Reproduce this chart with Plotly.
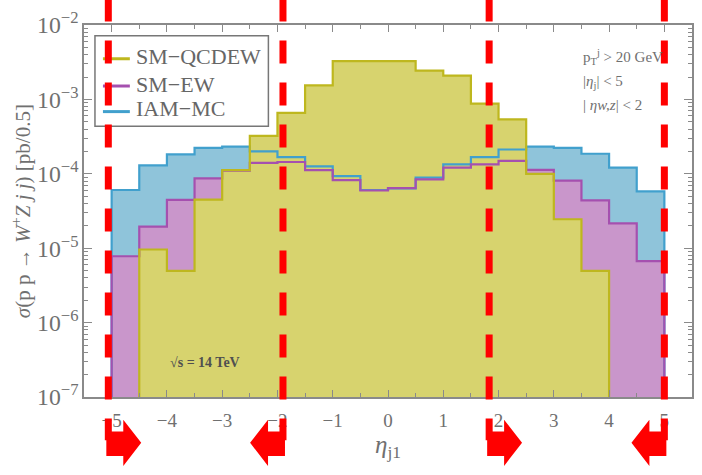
import numpy as np
import plotly.graph_objects as go

# eta_j1 histogram, bins of width 0.5 from -5 to 5  (cross section per bin in pb)
bin_edges = [-5.0, -4.5, -4.0, -3.5, -3.0, -2.5, -2.0, -1.5, -1.0, -0.5, 0.0,
             0.5, 1.0, 1.5, 2.0, 2.5, 3.0, 3.5, 4.0, 4.5, 5.0]

sm_qcdew = [0, 9.6e-6, 4.95e-6, 4.5e-5, 1.12e-4, 3.24e-4, 6.6e-4, 1.54e-3, 3.27e-3, 3.27e-3,
            3.27e-3, 2.43e-3, 2.09e-3, 8.8e-4, 5.4e-4, 1.0e-4, 2.45e-5, 4.95e-6, 0, 0]
sm_ew = [7.8e-6, 1.95e-5, 4.47e-5, 8.7e-5, 1.1e-4, 1.40e-4, 1.44e-4, 1.12e-4, 8.2e-5, 5.96e-5,
         6.4e-5, 8.4e-5, 1.21e-4, 1.34e-4, 1.49e-4, 1.13e-4, 8.1e-5, 4.38e-5, 2.15e-5, 6.7e-6]
iam_mc = [6.06e-5, 1.30e-4, 1.82e-4, 2.23e-4, 2.32e-4, 2.0e-4, 1.68e-4, 1.26e-4, 9.3e-5, 6.06e-5,
          6.38e-5, 8.9e-5, 1.34e-4, 1.68e-4, 2.12e-4, 2.32e-4, 2.23e-4, 1.86e-4, 1.21e-4, 5.8e-5]

series_names = ["SM\u2212QCDEW", "SM\u2212EW", "IAM\u2212MC"]
x_ticks = [-5, -4, -3, -2, -1, 0, 1, 2, 3, 4, 5]

# cut boundaries marked with red dashed lines and arrows
cut_lines = [-5.06, -1.90, 1.83, 5.0]
cut_dirs = [1, -1, 1, -1]

FLOOR = 1e-12  # stands in for empty bins on the log axis

fill_cols = {"qcd": "#d7d36e", "ew": "#c996cb", "iam": "#8fc4da"}
line_cols = {"qcd": "#beb71e", "ew": "#a550af", "iam": "#41a0cd"}


def step_outline(edges, vals):
    xs, ys = [edges[0]], [FLOOR]
    for i, v in enumerate(vals):
        v = v if v > 0 else FLOOR
        xs += [edges[i], edges[i + 1]]
        ys += [v, v]
    xs.append(edges[-1])
    ys.append(FLOOR)
    return xs, ys


fig = go.Figure()

series = [("iam", iam_mc, series_names[2]),
          ("ew", sm_ew, series_names[1]),
          ("qcd", sm_qcdew, series_names[0])]

# filled areas, back to front
for key, vals, name in series:
    xs, ys = step_outline(bin_edges, vals)
    fig.add_trace(go.Scatter(x=xs, y=ys, mode="lines", fill="toself",
                             fillcolor=fill_cols[key], line=dict(width=0),
                             showlegend=False, hoverinfo="skip"))
# outlines on top of all fills
for key, vals, name in series:
    xs, ys = step_outline(bin_edges, vals)
    fig.add_trace(go.Scatter(x=xs, y=ys, mode="lines",
                             line=dict(color=line_cols[key], width=2.2),
                             showlegend=False, name=name))

W, H = 702, 475
ML, MR, MT, MB = 84, 8, 19, 78
plot_w, plot_h = W - ML - MR, H - MT - MB
x_lo, x_hi = -5.5, 5.5
px_per_unit = plot_w / (x_hi - x_lo)


def py(pix):
    """pixel row -> paper y"""
    return (H - MB - pix) / plot_h


def px(pix):
    """pixel column -> paper x"""
    return (pix - ML) / plot_w


serif = "Liberation Serif, Times New Roman, serif"
grey_txt = "#707070"
frame = "#8a8a8a"

shapes = []
annotations = []

# legend box drawn by hand
shapes.append(dict(type="rect", xref="paper", yref="paper", x0=px(95), x1=px(269),
                   y0=py(30), y1=py(122), line=dict(color="#777777", width=1.5),
                   fillcolor="rgba(0,0,0,0)", layer="above"))
legend_rows = [("qcd", series_names[0], 53.3, 50.5),
               ("ew", series_names[1], 81.0, 79.0),
               ("iam", series_names[2], 107.0, 104.0)]
for key, name, line_y, text_y in legend_rows:
    shapes.append(dict(type="line", xref="paper", yref="paper", x0=px(103), x1=px(130),
                       y0=py(line_y), y1=py(line_y), layer="above",
                       line=dict(color=line_cols[key], width=3)))
    annotations.append(dict(xref="paper", yref="paper", x=px(134), y=py(text_y),
                            xanchor="left", yanchor="middle", showarrow=False, text=name,
                            font=dict(family=serif, size=22, color="#666666")))

for L, d in zip(cut_lines, cut_dirs):
    shapes.append(dict(type="line", xref="x", yref="paper", x0=L, x1=L,
                       y0=py(-8), y1=py(441), layer="above",
                       line=dict(color="#ff0000", width=7, dash="23px,19px")))
    u = d / px_per_unit
    bx0, bx1, tip = L - 2 * u, L + 15 * u, L + 33 * u
    bt, bb, ht, hb, ty = py(432), py(457), py(420), py(467), py(443.5)
    path = (f"M{bx0},{bt} L{bx1},{bt} L{bx1},{ht} L{tip},{ty} "
            f"L{bx1},{hb} L{bx1},{bb} L{bx0},{bb} Z")
    shapes.append(dict(type="path", xref="x", yref="paper", path=path,
                       fillcolor="#ff0000", line=dict(width=0), layer="above"))

annotations += [
    dict(xref="paper", yref="paper", x=px(583), y=py(51.7), xanchor="left",
         yanchor="middle", showarrow=False,
         text="p<sub>T</sub><sup>j</sup> &gt; 20 GeV",
         font=dict(family=serif, size=15, color=grey_txt)),
    dict(xref="paper", yref="paper", x=px(583), y=py(76.7), xanchor="left",
         yanchor="middle", showarrow=False,
         text="|<i>η</i><sub>j</sub>| &lt; 5",
         font=dict(family=serif, size=15, color=grey_txt)),
    dict(xref="paper", yref="paper", x=px(583), y=py(100), xanchor="left",
         yanchor="middle", showarrow=False,
         text="| <i>ηw,z</i>| &lt; 2",
         font=dict(family=serif, size=15, color=grey_txt)),
    dict(xref="paper", yref="paper", x=px(168), y=py(362), xanchor="left",
         yanchor="middle", showarrow=False,
         text="<b>√s = 14 TeV</b>",
         font=dict(family=serif, size=14, color="#505050")),
    # y-axis title
    dict(xref="paper", yref="paper", x=px(21), y=py(208), xanchor="center",
         yanchor="middle", showarrow=False, textangle=-90,
         text="<i>σ</i>(p p → <i>W</i><sup>+</sup><i>Z j j</i>) [pb/0.5]",
         font=dict(family=serif, size=21, color=grey_txt)),
]

fig.update_layout(
    width=W, height=H,
    margin=dict(l=ML, r=MR, t=MT, b=MB, pad=0),
    paper_bgcolor="white", plot_bgcolor="white",
    shapes=shapes, annotations=annotations,
    showlegend=False,
    xaxis=dict(range=[x_lo, x_hi], tickvals=x_ticks, ticks="inside", ticklen=7,
               tickcolor=frame, tickwidth=1, showline=True, linecolor=frame,
               linewidth=1.5, mirror="allticks", showgrid=False, zeroline=False,
               ticklabelstandoff=5,
               tickfont=dict(family=serif, size=19, color=grey_txt),
               minor=dict(dtick=0.5, tick0=0, ticks="inside", ticklen=4,
                          tickcolor=frame, showgrid=False),
               title=dict(text="<i>η</i><sub>j1</sub>", standoff=5,
                          font=dict(family=serif, size=25, color=grey_txt))),
    yaxis=dict(type="log", range=[-7, -2], dtick=1, exponentformat="power",
               ticks="inside", ticklen=8, tickcolor=frame, tickwidth=1,
               showline=True, linecolor=frame, linewidth=1.5, mirror="allticks",
               showgrid=False, zeroline=False,
               tickfont=dict(family=serif, size=19, color=grey_txt),
               minor=dict(dtick="D1", ticks="inside", ticklen=4, tickcolor=frame,
                          showgrid=False)),
)

fig.write_html("out.html")
